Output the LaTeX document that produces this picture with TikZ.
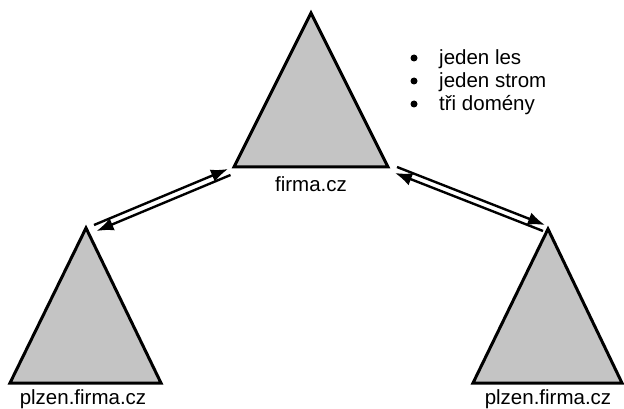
\documentclass[tikz,border=0pt]{standalone}
\usepackage{fontspec}
\setmainfont{Liberation Sans}
\usetikzlibrary{arrows.meta}
\definecolor{domgray}{RGB}{196,196,196}
\begin{document}
\begin{tikzpicture}[x=1pt,y=-1pt,
  domtri/.style={draw=black,fill=domgray,line width=3pt,line join=miter},
  domlbl/.style={anchor=base,inner sep=0pt,font=\fontsize{20.5}{24}\selectfont},
  noteitem/.style={anchor=base west,inner sep=0pt,font=\fontsize{20.5}{24}\selectfont},
  notedot/.style={circle,fill=black,inner sep=0pt,minimum size=7pt},
  trustline/.style={line width=2.4pt,black},
  trusttip/.style={-{Latex[length=17pt,width=13pt]}}]
\useasboundingbox (0,0) rectangle (624,409);

% root domain
\draw[domtri] (311,13) coordinate (rootTop) -- (388,167) -- (234,167) -- cycle;
\node[domlbl] (rootLbl) at (311,192) {firma.cz};

% left child domain
\draw[domtri] (86,228) coordinate (leftTop) -- (161,383) -- (10,383) -- cycle;
\node[domlbl] (leftLbl) at (83,404.5) {plzen.firma.cz};

% right child domain
\draw[domtri] (548,229) coordinate (rightTop) -- (622,383) -- (473,383) -- cycle;
\node[domlbl] (rightLbl) at (548,404.5) {plzen.firma.cz};

% notes
\node[notedot] (b1) at (414,58) {};
\node[noteitem] (t1) at (439,65) {jeden les};
\node[notedot] (b2) at (414,81) {};
\node[noteitem] (t2) at (439,88) {jeden strom};
\node[notedot] (b3) at (414,104) {};
\node[noteitem] (t3) at (439,111) {tři domény};

% two-way trust, left
\coordinate (lu1) at (94,225);
\coordinate (lu2) at (228,169);
\coordinate (ll1) at (96.5,231);
\coordinate (ll2) at (230.5,175);
\draw[trustline,trusttip] (lu1) -- (lu2);
\draw[trustline,trusttip] (ll2) -- (ll1);

% two-way trust, right
\coordinate (ru1) at (397,167);
\coordinate (ru2) at (545,225);
\coordinate (rl1) at (395,173);
\coordinate (rl2) at (543,231);
\draw[trustline,trusttip] (ru1) -- (ru2);
\draw[trustline,trusttip] (rl2) -- (rl1);
\end{tikzpicture}
\end{document}
